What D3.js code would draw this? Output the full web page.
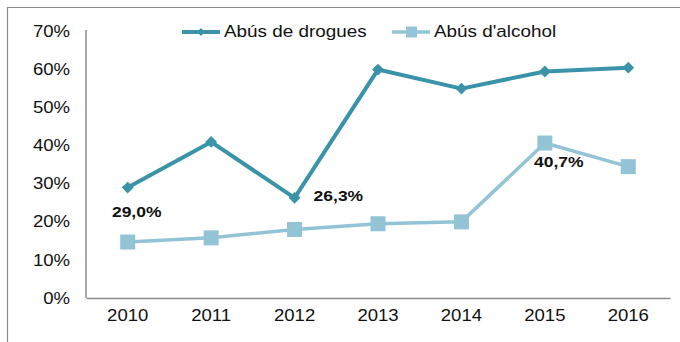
<!DOCTYPE html>
<html>
<head>
<meta charset="utf-8">
<script src="https://cdn.jsdelivr.net/npm/d3@7"></script>
<style>
  html, body { margin: 0; padding: 0; background: #fff; }
  svg { display: block; font-family: "Liberation Sans", Arial, sans-serif; }
</style>
</head>
<body>
<svg id="chart" width="680" height="342"></svg>
<script>
// Years on the x axis
const years = ["2010", "2011", "2012", "2013", "2014", "2015", "2016"];
// Percentage values per series
const drugs = [29.0, 41.0, 26.3, 60.0, 55.0, 59.5, 60.5];
const alcohol = [14.7, 15.8, 18.0, 19.5, 20.0, 40.7, 34.5];
// Y axis ticks
const yTicks = [0, 10, 20, 30, 40, 50, 60, 70];
// Series names for the legend
const seriesNames = ["Abús de drogues", "Abús d'alcohol"];
// Values printed next to selected points: [series, year index]
const labelled = [
  { s: 0, i: 0 }, { s: 0, i: 2 }, { s: 1, i: 5 }
];

const colDrugs = "#3a93a9";
const colAlc = "#92c4d5";
const FS = 16;        // base font size
const SX = 1.16;      // horizontal stretch of the lettering

const svg = d3.select("#chart");

// Text drawn with a horizontal stretch around its anchor point
function stretchedText(parent, px, py, str, opts = {}) {
  return parent.append("text")
    .attr("transform", `translate(${px},${py}) scale(${opts.sx || SX},1)`)
    .attr("text-anchor", opts.anchor || "start")
    .attr("font-size", opts.size || FS)
    .attr("font-weight", opts.weight || "normal")
    .attr("fill", "#111")
    .text(str);
}

// Outer frame (top and left edges)
svg.append("line").attr("x1", 7).attr("x2", 680).attr("y1", 7.5).attr("y2", 7.5)
  .attr("stroke", "#8c8c8c").attr("stroke-width", 1.2);
svg.append("line").attr("x1", 7.5).attr("x2", 7.5).attr("y1", 7).attr("y2", 342)
  .attr("stroke", "#8c8c8c").attr("stroke-width", 1.2);

const x = d3.scaleBand().domain(years).range([86, 670]);
const y = d3.scaleLinear().domain([0, 70]).range([298, 31.5]);
const cx = d => x(d) + x.bandwidth() / 2;

// Y axis
const yAxis = svg.append("g").attr("transform", "translate(86,0)")
  .call(d3.axisLeft(y).tickValues(yTicks).tickSize(0).tickPadding(16)
    .tickFormat(d => d + "%"));
yAxis.select(".domain").attr("stroke", "#8c8c8c").attr("stroke-width", 1.5)
  .attr("d", `M0,${y(0)}V${y(70) - 1.5}`);
yAxis.selectAll("text").attr("font-size", FS).attr("fill", "#111")
  .attr("font-family", "Liberation Sans, Arial, sans-serif")
  .attr("x", -16 / SX).attr("transform", `scale(${SX},1)`);

// X axis
const xAxis = svg.append("g").attr("transform", `translate(0,${y(0)})`)
  .call(d3.axisBottom(x).tickSize(0).tickPadding(12));
xAxis.select(".domain").attr("stroke", "#8c8c8c").attr("stroke-width", 1.5);
xAxis.selectAll("text").attr("font-size", FS).attr("fill", "#111")
  .attr("font-family", "Liberation Sans, Arial, sans-serif")
  .attr("transform", `scale(${SX},1)`);

const line = d3.line().x((d, i) => cx(years[i])).y(d => y(d));

// Alcohol series
svg.append("path").datum(alcohol).attr("d", line).attr("fill", "none")
  .attr("stroke", colAlc).attr("stroke-width", 3.5).attr("stroke-linejoin", "round");
svg.selectAll(".sq").data(alcohol).enter().append("rect")
  .attr("x", (d, i) => cx(years[i]) - 7.5).attr("y", d => y(d) - 7.5)
  .attr("width", 15).attr("height", 15).attr("fill", colAlc);

// Drugs series
svg.append("path").datum(drugs).attr("d", line).attr("fill", "none")
  .attr("stroke", colDrugs).attr("stroke-width", 4).attr("stroke-linejoin", "round");
const diamond = d3.symbol().type(d3.symbolDiamond2).size(90);
svg.selectAll(".dm").data(drugs).enter().append("path")
  .attr("d", diamond)
  .attr("transform", (d, i) => `translate(${cx(years[i])},${y(d)})`)
  .attr("fill", colDrugs);

// Value labels
const fmt = v => v.toFixed(1).replace(".", ",") + "%";
const labelOffsets = [ {dx: 9, dy: 29, a: "middle"}, {dx: 19, dy: 3.5, a: "start"}, {dx: 14, dy: 24, a: "middle"} ];
labelled.forEach((l, k) => {
  const v = (l.s === 0 ? drugs : alcohol)[l.i];
  const o = labelOffsets[k];
  stretchedText(svg, cx(years[l.i]) + o.dx, y(v) + o.dy, fmt(v),
    { anchor: o.a, weight: "bold", size: 15.5, sx: 1.13 });
});

// Legend
const legend = [
  { name: seriesNames[0], color: colDrugs, x: 182, marker: "diamond" },
  { name: seriesNames[1], color: colAlc, x: 392, marker: "square" }
];
legend.forEach(l => {
  const g = svg.append("g").attr("transform", `translate(${l.x},32)`);
  g.append("line").attr("x1", 0).attr("x2", 38).attr("y1", 0).attr("y2", 0)
    .attr("stroke", l.color).attr("stroke-width", l.marker === "diamond" ? 4 : 3.5);
  if (l.marker === "diamond") {
    g.append("path").attr("d", d3.symbol().type(d3.symbolDiamond2).size(40)())
      .attr("transform", "translate(19,0)").attr("fill", l.color);
  } else {
    g.append("rect").attr("x", 14).attr("y", -5.5).attr("width", 11).attr("height", 11)
      .attr("fill", l.color);
  }
  stretchedText(g, 42, 5, l.name, { sx: 1.18 });
});
</script>
</body>
</html>
